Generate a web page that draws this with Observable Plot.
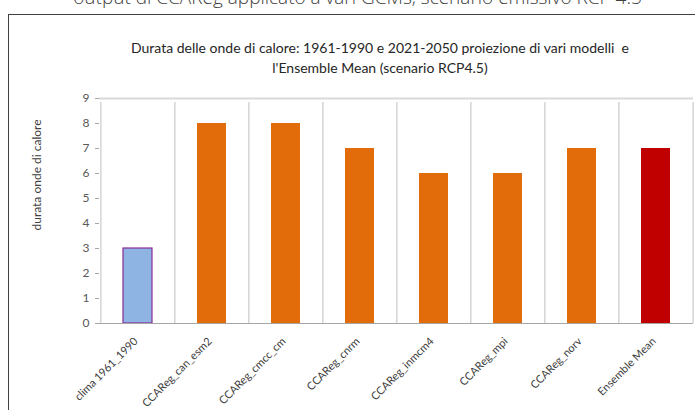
<!DOCTYPE html>
<html><head><meta charset="utf-8">
<script src="https://cdn.jsdelivr.net/npm/d3@7"></script>
<script src="https://cdn.jsdelivr.net/npm/@observablehq/plot@0.6"></script>
<style>
body{margin:0;width:695px;height:410px;overflow:hidden;background:#fff;position:relative;font-family:Lato,sans-serif}
#top{position:absolute;left:0;width:715px;top:-16px;text-align:center;font:300 19px "Open Sans";color:#404040;white-space:nowrap}
#box{position:absolute;left:8px;top:14px;width:800px;height:500px;border-left:1.5px solid #404040;border-top:1.5px solid #404040}
#title{position:absolute;left:0;width:760px;top:38px;text-align:center;font:14px Lato;line-height:20px;color:#262626;white-space:nowrap}
#chart{position:absolute;left:0;top:80px}
</style></head><body>
<div id="top">output di CCAReg applicato a vari GCMs, scenario emissivo RCP 4.5</div>
<div id="box"></div>
<div id="title">Durata delle onde di calore: 1961-1990 e 2021-2050 proiezione di vari modelli&nbsp; e<br>l'Ensemble Mean (scenario RCP4.5)</div>
<div id="chart"></div>
<script>
const categories = ["clima 1961_1990","CCAReg_can_esm2","CCAReg_cmcc_cm","CCAReg_cnrm","CCAReg_inmcm4","CCAReg_mpi","CCAReg_norv","Ensemble Mean"];
const values = [3, 8, 8, 7, 6, 6, 7, 7];
const groups = ["clima","modello","modello","modello","modello","modello","modello","ensemble"];
const yTicks = [0,1,2,3,4,5,6,7,8,9];
const yLabel = "durata onde di calore";

const data = categories.map((c, i) => ({cat: c, value: values[i], group: groups[i]}));

const W = 695, H = 330, mL = 99, mR = 2;
const step = (W - mL - mR) / categories.length;

const chart = Plot.plot({
  width: W, height: H,
  marginLeft: mL, marginRight: mR, marginTop: 18, marginBottom: 87,
  style: {fontFamily: "Lato, sans-serif", background: "transparent", overflow: "visible"},
  x: {domain: categories, paddingInner: 0.61, paddingOuter: 0.305, axis: null},
  y: {domain: [0, 9], axis: null},
  color: {domain: ["clima","modello","ensemble"], range: ["#8DB4E2","#E26B0A","#C00000"]},
  marks: [
    Plot.ruleY([9], {stroke: "#d9d9d9", strokeWidth: 2}),
    Plot.ruleX(categories, {x: d => d, dx: -step/2, y1: 0, y2: 9, insetBottom: -4, stroke: "#bfbfbf"}),
    Plot.ruleX([categories[categories.length-1]], {x: d => d, dx: step/2, y1: 0, y2: 9, insetBottom: -4, stroke: "#bfbfbf"}),
    Plot.barY(data.filter(d => d.group !== "clima"), {x: "cat", y: "value", fill: "group"}),
    Plot.barY(data.filter(d => d.group === "clima"), {x: "cat", y: "value", fill: "group", stroke: "#8a2a9a", strokeWidth: 1.2}),
    Plot.ruleY([0], {stroke: "#a6a6a6"}),
    Plot.axisY({ticks: yTicks, tickSize: 4, tickPadding: 6, stroke: "#a6a6a6", color: "#595959", fontSize: 12, label: null, tickFormat: d => d}),
    Plot.text(categories, {x: d => d, text: d => d, frameAnchor: "bottom", dx: -2, dy: 16, rotate: -45, textAnchor: "end", lineAnchor: "middle", fill: "#404040", fontSize: 11}),
    Plot.text([yLabel], {text: d => d, frameAnchor: "left", dx: -62, dy: -36, rotate: -90, fill: "#404040", fontSize: 12, textAnchor: "middle"})
  ]
});
document.getElementById("chart").appendChild(chart);
</script>
</body></html>
